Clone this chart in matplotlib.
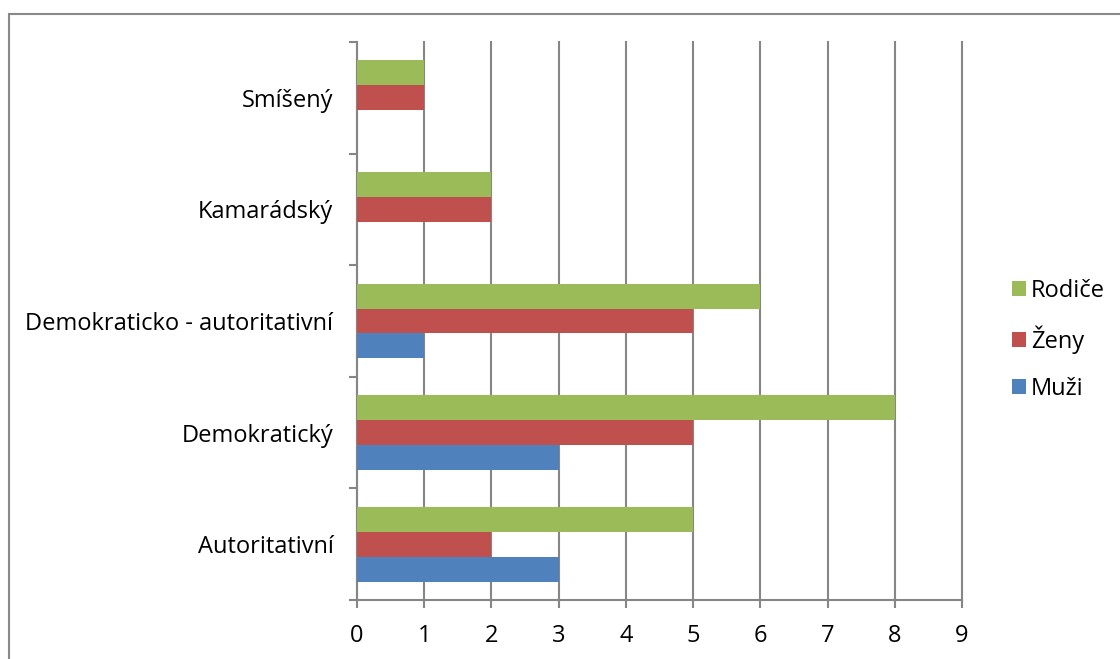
import matplotlib.pyplot as plt
from matplotlib.patches import Rectangle
import numpy as np

categories = ["Autoritativní", "Demokratický", "Demokraticko - autoritativní",
              "Kamarádský", "Smíšený"]
muzi = [3, 3, 1, 0, 0]
zeny = [2, 5, 5, 2, 1]
rodice = [5, 8, 6, 2, 1]
x_ticks = list(range(10))

plt.rcParams["font.family"] = ["Open Sans", "DejaVu Sans"]

fig = plt.figure(figsize=(11.2, 6.59), dpi=100)
ax = fig.add_axes([357 / 1120, 1 - 600 / 659, 605 / 1120, 558 / 659])

# outer chart border
fig.patches.append(Rectangle((8.5 / 1120, -0.05), 1.2, 1 - 13.5 / 659 + 0.05,
                             transform=fig.transFigure, fill=False,
                             edgecolor="#898989", linewidth=1.5))

y = np.arange(len(categories))
h = 0.223
ax.barh(y - h, muzi, height=h, color="#4f81bd", label="Muži", zorder=3)
ax.barh(y, zeny, height=h, color="#c0504d", label="Ženy", zorder=3)
ax.barh(y + h, rodice, height=h, color="#9bbb59", label="Rodiče", zorder=3)

ax.set_xlim(0, 9)
ax.set_ylim(-0.5, len(categories) - 0.5)
ax.set_xticks(x_ticks)
ax.set_xticklabels([str(t) for t in x_ticks], fontsize=17)
ax.xaxis.grid(True, color="#868686", linewidth=1.5, zorder=0)
for line in ax.get_xgridlines():
    line.set_clip_on(False)

ax.set_yticks(y)
ax.set_yticklabels(categories, fontsize=17)
ax.tick_params(axis="y", length=0, pad=17)
ax.set_yticks(np.arange(len(categories) + 1) - 0.5, minor=True)
ax.tick_params(axis="y", which="minor", length=6, width=1.5, color="#868686")
ax.tick_params(axis="x", length=6, width=1.5, color="#868686", pad=11)

for s in ["top", "right"]:
    ax.spines[s].set_visible(False)
for s in ["left", "bottom"]:
    ax.spines[s].set_color("#868686")
    ax.spines[s].set_linewidth(1.5)

handles, labels = ax.get_legend_handles_labels()
fig.legend(handles[::-1], labels[::-1], loc="center left",
           bbox_to_anchor=(1012 / 1120, 1 - 340 / 659), frameon=False,
           fontsize=17, handlelength=0.6, handleheight=0.6,
           handletextpad=0.2, labelspacing=0.95,
           borderpad=0, borderaxespad=0)

fig.savefig("out.png", dpi=100)
